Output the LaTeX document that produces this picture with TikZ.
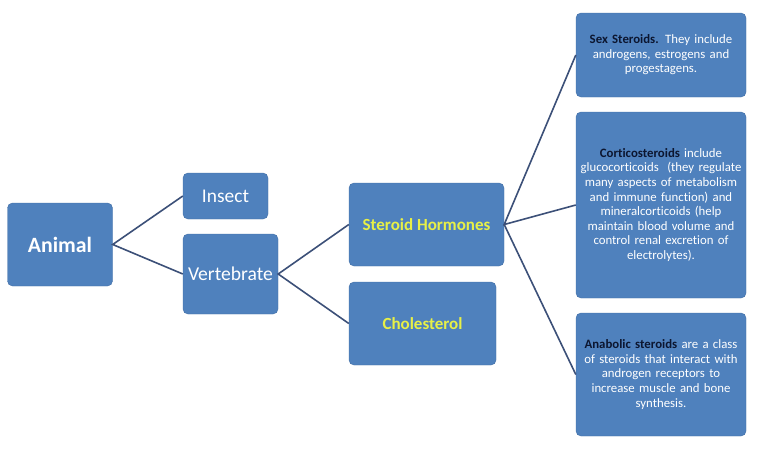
\documentclass[tikz,border=0pt]{standalone}
\usepackage{fontspec}
\setmainfont{Carlito}[Ligatures=CommonOff]
\definecolor{boxblue}{RGB}{79,129,189}
\definecolor{boxline}{RGB}{65,110,165}
\definecolor{linkline}{RGB}{60,80,120}
\definecolor{headyellow}{RGB}{232,240,70}
\definecolor{darknavy}{RGB}{12,22,48}
\tikzset{
  box/.style={draw=boxline, fill=boxblue, rounded corners=5pt, text=white, align=center, inner sep=2pt},
  note/.style={box, font=\fontsize{12.8}{14.6}\selectfont, text width=166pt},
  link/.style={draw=linkline, line width=1.6pt}
}
\begin{document}
\begin{tikzpicture}[x=1pt,y=-1pt]
\useasboundingbox (0,0) rectangle (760,450);
\node[box, minimum width=105pt, minimum height=83pt, font=\fontsize{21.8}{26}\selectfont\bfseries] (animal) at (60,244.5) {Animal};
\node[box, minimum width=85pt, minimum height=46pt, font=\fontsize{19.4}{23}\selectfont] (insect) at (225.5,196) {Insect};
\node[box, minimum width=95pt, minimum height=80pt, font=\fontsize{19.6}{23}\selectfont] (vert) at (230.5,274) {Vertebrate};
\node[box, minimum width=155pt, minimum height=83pt, text=headyellow, font=\fontsize{17}{20}\selectfont\bfseries] (hormones) at (426.5,224.5) {Steroid Hormones};
\node[box, minimum width=147pt, minimum height=83pt, text=headyellow, font=\fontsize{17}{20}\selectfont\bfseries] (chol) at (422.5,323.5) {Cholesterol};
\node[note, minimum width=170pt, minimum height=84pt] (sex) at (661,55) {\textcolor{darknavy}{\textbf{Sex Steroids.}} They include\\androgens, estrogens and\\progestagens.};
\node[note, minimum width=170pt, minimum height=186pt] (cortico) at (661,205) {\textcolor{darknavy}{\textbf{Corticosteroids}} include\\glucocorticoids\ \ (they regulate\\many aspects of metabolism\\and immune function) and\\mineralcorticoids (help\\maintain blood volume and\\control renal excretion of\\electrolytes).};
\node[note, minimum width=170pt, minimum height=123pt] (anabolic) at (661,374.5) {\textcolor{darknavy}{\textbf{Anabolic steroids}} are a class\\of steroids that interact with\\androgen receptors to\\increase muscle and bone\\synthesis.};
\draw[link] (insect.west)--(animal.east)--(vert.west);
\draw[link] (hormones.west)--(vert.east)--(chol.west);
\draw[link] (sex.west)--(hormones.east)--(cortico.west);
\draw[link] (hormones.east)--(anabolic.west);
\end{tikzpicture}
\end{document}
